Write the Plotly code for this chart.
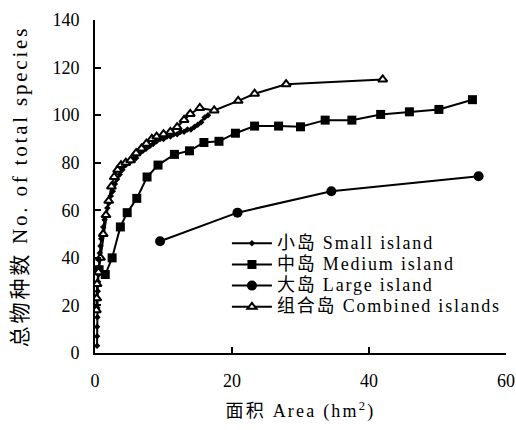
import plotly.graph_objects as go

# ---- data ----
small_x = [0.3, 0.3, 0.3, 0.35, 0.35, 0.4, 0.4, 0.45, 0.5, 0.55, 0.6, 0.7, 0.8, 0.9, 1.0, 1.2,
           1.4, 1.6, 1.8, 2.0, 2.3, 2.6, 2.9, 3.2, 3.6, 4.0, 4.5, 5.0, 5.5, 6.0, 6.5, 7.0, 7.5,
           8.0, 8.5, 9.0, 9.5, 10.0, 10.5, 11.0, 11.5, 12.0, 12.5, 13.0, 13.5, 14.0, 14.5,
           15.0, 15.5, 16.0, 16.5]
small_y = [3, 7, 11, 15, 19, 23, 26, 30, 33, 36, 39, 42, 45, 48, 50, 53,
           56, 58, 61, 63, 66, 68, 71, 73, 75, 77, 79, 80, 81, 82, 84, 85, 86,
           87, 88, 89, 90, 90, 91, 91, 92, 92, 93, 93, 94, 94, 95, 96, 97, 99, 100]

medium_x = [0.6, 1.5, 2.5, 3.7, 4.7, 6.1, 7.6, 9.2, 11.6, 13.8, 15.9, 18.1, 20.5, 23.3,
            26.8, 30.0, 33.6, 37.5, 41.7, 45.9, 50.2, 55.1]
medium_y = [35, 33, 40, 53, 59, 65, 74, 79, 83.5, 85, 88.5, 89, 92.4, 95.4,
            95.4, 95.1, 97.9, 97.9, 100.3, 101.4, 102.4, 106.5]

large_x = [9.5, 20.8, 34.5, 56.0]
large_y = [47, 59, 68, 74.3]

combined_x = [0.2, 0.25, 0.3, 0.5, 0.8, 1.2, 1.6, 2.0, 2.4, 2.8, 3.3, 3.8, 4.5, 5.2, 6.0,
              6.8, 7.5, 8.3, 9.0, 10.0, 11.0, 12.0, 13.0, 13.9, 15.3, 17.4, 20.9, 23.3,
              27.9, 42.0]
combined_y = [18, 23, 29, 34, 40, 50, 58, 64, 70, 74, 77, 79, 80, 81, 84,
              86, 88, 90, 91, 92, 93, 95, 98, 100.5, 103, 102, 106, 109,
              113, 115]

names = ["小岛 Small island", "中岛 Medium island", "大岛 Large island", "组合岛 Combined islands"]
x_ticks = [0, 20, 40, 60]
y_ticks = [0, 20, 40, 60, 80, 100, 120, 140]
x_title = "面积 Area (hm<sup>2</sup>)"
y_title = "总物种数 No. of total species"

FONT = "Liberation Serif, Times New Roman, Noto Sans CJK SC, serif"


def styled(text, size, spacing):
    return f'<span style="font-size:{size}px;letter-spacing:{spacing}px">{text}</span>'


symbols = ["diamond", "square", "circle", "triangle-up"]
sizes = [5, 9, 10, 8]
xs = [small_x, medium_x, large_x, combined_x]
ys = [small_y, medium_y, large_y, combined_y]

fig = go.Figure()
for i in range(4):
    marker = dict(symbol=symbols[i], size=sizes[i], color="black")
    if symbols[i] == "triangle-up":
        marker = dict(symbol="triangle-up", size=sizes[i], color="white",
                      line=dict(color="black", width=2))
    fig.add_trace(go.Scatter(x=xs[i], y=ys[i], name=styled(names[i], 18, 1.8),
                             mode="lines+markers",
                             line=dict(color="black", width=2), marker=marker))

fig.update_layout(
    width=516, height=430,
    margin=dict(l=95, r=10, t=20, b=77, autoexpand=False),
    paper_bgcolor="white", plot_bgcolor="white",
    font=dict(family=FONT, size=18, color="black"),
    showlegend=True,
    legend=dict(x=0.321, y=0.3766, xanchor="left", yanchor="top",
                bgcolor="rgba(0,0,0,0)", font=dict(size=14, family=FONT),
                tracegroupgap=0, itemwidth=40),
    xaxis=dict(range=[0, 60], tickvals=x_ticks, ticks="inside", ticklen=6,
               tickwidth=2, tickcolor="black", showline=True, linecolor="black",
               linewidth=2, showgrid=False, zeroline=False, automargin=False,
               ticklabelstandoff=10, ticklabeloverflow="allow",
               title=dict(text=styled(x_title, 18, 2.2), standoff=15,
                          font=dict(size=18, family=FONT)),
               tickfont=dict(size=18, family=FONT)),
    yaxis=dict(range=[0, 140], tickvals=y_ticks, ticks="inside", ticklen=6,
               tickwidth=2, tickcolor="black", showline=True, linecolor="black",
               linewidth=2, showgrid=False, zeroline=False, automargin=False,
               ticklabelstandoff=10, ticklabeloverflow="allow",
               title=dict(text=styled(y_title, 21, 2.8), standoff=19,
                          font=dict(size=21, family=FONT)),
               tickfont=dict(size=18, family=FONT)),
)

fig.write_html("out.html", config={"displayModeBar": False},
               post_script="document.body.style.margin='0';document.body.style.overflow='hidden';")
